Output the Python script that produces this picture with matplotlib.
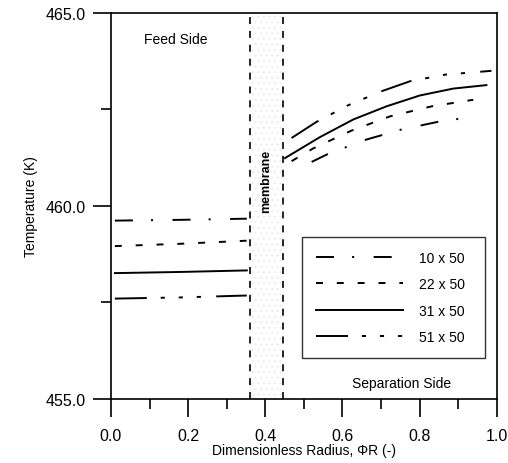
import numpy as np
import matplotlib
matplotlib.use("Agg")
from matplotlib import pyplot as plt

plt.rcParams['font.family'] = ['Liberation Sans', 'DejaVu Sans']
plt.rcParams['lines.scale_dashes'] = False
plt.rcParams['hatch.linewidth'] = 0.5

# feed side (left of membrane)
x_feed = [0.01, 0.18, 0.352]
feed_10 = [459.62, 459.64, 459.67]
feed_22 = [458.96, 459.02, 459.10]
feed_31 = [458.26, 458.29, 458.33]
feed_51 = [457.60, 457.63, 457.68]

# separation side (right of membrane)
x_sep_10 = [0.52, 0.563, 0.662, 0.753, 0.848, 0.904]
sep_10 = [461.14, 461.35, 461.72, 461.98, 462.18, 462.26]
x_sep_22 = [0.468, 0.524, 0.623, 0.723, 0.831, 0.939]
sep_22 = [461.16, 461.49, 461.95, 462.32, 462.58, 462.75]
x_sep_31 = [0.451, 0.541, 0.628, 0.714, 0.80, 0.887, 0.973]
sep_31 = [461.24, 461.78, 462.24, 462.58, 462.86, 463.04, 463.13]
x_sep_51 = [0.468, 0.533, 0.615, 0.701, 0.775, 0.865, 0.986]
sep_51 = [461.76, 462.18, 462.61, 462.97, 463.23, 463.40, 463.50]

labels = ['10 x 50', '22 x 50', '31 x 50', '51 x 50']
styles = [(0, (13, 13, 1.5, 14)),
          (0, (5, 10)),
          '-',
          (0, (23, 10, 3, 10, 3, 10, 3, 11))]

membrane = [0.36, 0.445]

fig = plt.figure(figsize=(5.08, 4.64), dpi=100)
ax = fig.add_axes([0.2185, 0.138, 0.7595, 0.832])

feeds = [feed_10, feed_22, feed_31, feed_51]
seps = [(x_sep_10, sep_10), (x_sep_22, sep_22), (x_sep_31, sep_31), (x_sep_51, sep_51)]
for i in range(4):
    ax.plot(x_feed, feeds[i], color='black', lw=1.4, linestyle=styles[i], label=labels[i])
    ax.plot(seps[i][0], seps[i][1], color='black', lw=1.4, linestyle=styles[i])

# membrane
ax.axvspan(membrane[0], membrane[1], facecolor='none', edgecolor='#e6e6e6', hatch='...', lw=0)
for xm in membrane:
    ax.axvline(xm, color='black', lw=1.2, linestyle=(0, (5, 5)))
ax.text(0.403, 460.65, 'membrane', rotation=90, ha='center', va='center', fontsize=9, fontweight='bold')

ax.text(0.168, 464.33, 'Feed Side', ha='center', va='center', fontsize=10)
ax.text(0.754, 455.41, 'Separation Side', ha='center', va='center', fontsize=10)

ax.set_xlim(0, 1.0)
ax.set_ylim(455, 465)
ax.set_xticks(np.arange(0, 1.01, 0.2))
ax.set_xticks(np.arange(0.1, 1.0, 0.2), minor=True)
ax.set_yticks([455, 460, 465])
ax.set_yticks([457.5, 462.5], minor=True)
ax.set_xticklabels(['0.0', '0.2', '0.4', '0.6', '0.8', '1.0'])
ax.set_yticklabels(['455.0', '460.0', '465.0'])
ax.tick_params(which='major', direction='out', length=13, width=1.2, labelsize=11.5)
ax.tick_params(axis='x', which='major', pad=8)
ax.tick_params(axis='y', which='major', pad=5)
ax.tick_params(which='minor', direction='out', length=7, width=1.2)
for s in ax.spines.values():
    s.set_linewidth(1.2)

ax.set_xlabel('Dimensionless Radius, \u03a6R (-)', fontsize=10, labelpad=0)
ax.set_ylabel('Temperature (K)', fontsize=10, labelpad=6)

leg = ax.legend(loc='upper left', bbox_to_anchor=(0.4948, 0.4197, 0.474, 0.0), mode='expand',
                fontsize=10, handlelength=6.3, frameon=True, fancybox=False, edgecolor='black',
                labelspacing=0.9, borderpad=1.0, handletextpad=1.1, borderaxespad=0)
leg.get_frame().set_linewidth(1.0)

plt.savefig('out.png', dpi=100)
